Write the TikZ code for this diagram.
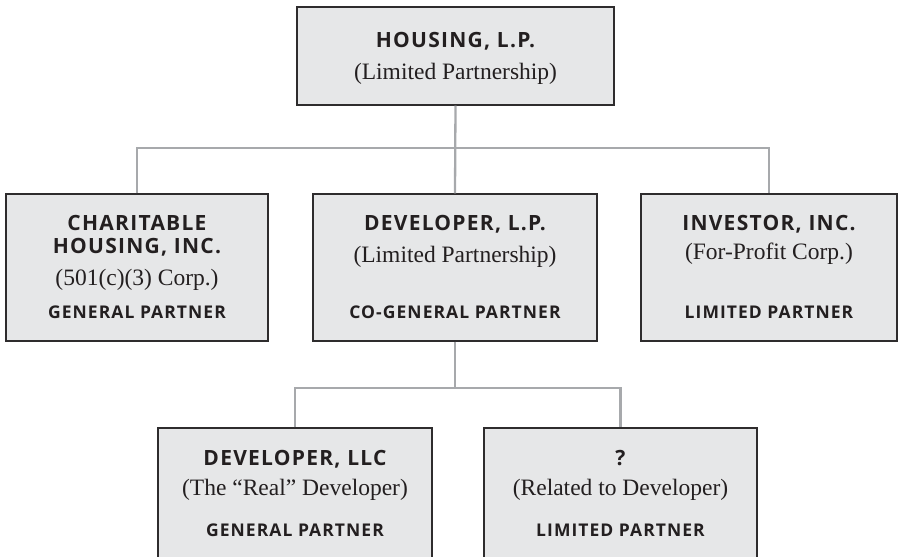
\documentclass[tikz,border=0pt]{standalone}
\usepackage{fontspec}
\setmainfont{Liberation Serif}
\newfontfamily\headfont{Open Sans}[LetterSpace=6]
\definecolor{boxfill}{HTML}{E6E7E8}
\definecolor{boxline}{HTML}{2E2C2D}
\definecolor{linkgray}{HTML}{A7A9AC}
\definecolor{ink}{HTML}{231F20}
\tikzset{
  box/.style={draw=boxline, fill=boxfill, line width=1.4pt, inner sep=0pt},
  title/.style={font=\headfont\bfseries\fontsize{21}{24}\selectfont, text=ink, anchor=base, inner sep=0pt},
  sub/.style={font=\fontsize{23.5}{26}\selectfont, text=ink, anchor=base, inner sep=0pt},
  role/.style={font=\headfont\bfseries\fontsize{17.5}{20}\selectfont, text=ink, anchor=base, inner sep=0pt},
  link/.style={draw=linkgray, line width=2.3pt}
}
\begin{document}
\begin{tikzpicture}[x=1pt,y=-1pt]
  \useasboundingbox (0,0) rectangle (898,557);
  % boxes
  \node[box, minimum width=317pt, minimum height=98pt] (hlp) at (455.5,56) {};
  \node[box, minimum width=262pt, minimum height=147pt] (chi) at (137,267.5) {};
  \node[box, minimum width=284pt, minimum height=147pt] (dlp) at (455,267.5) {};
  \node[box, minimum width=256pt, minimum height=147pt] (inv) at (769,267.5) {};
  \node[box, minimum width=274pt, minimum height=131pt] (dllc) at (295,493.5) {};
  \node[box, minimum width=273pt, minimum height=131pt] (rel) at (620.5,493.5) {};
  % texts
  \node[title] (hlp-t) at ([yshift=-41pt]hlp.north) {HOUSING, L.P.};
  \node[sub] (hlp-s) at ([yshift=-32pt]hlp-t.base) {(Limited Partnership)};
  \node[title] (chi-t1) at ([yshift=-37pt]chi.north) {CHARITABLE};
  \node[title] (chi-t2) at ([yshift=-23pt]chi-t1.base) {HOUSING, INC.};
  \node[sub] (chi-s) at ([yshift=-32pt]chi-t2.base) {(501(c)(3) Corp.)};
  \node[role] (chi-r) at ([yshift=23pt]chi.south) {GENERAL PARTNER};
  \node[title] (dlp-t) at ([yshift=-37pt]dlp.north) {DEVELOPER, L.P.};
  \node[sub] (dlp-s) at ([yshift=-32pt]dlp-t.base) {(Limited Partnership)};
  \node[role] (dlp-r) at ([yshift=23pt]dlp.south) {CO-GENERAL PARTNER};
  \node[title] (inv-t) at ([yshift=-37pt]inv.north) {INVESTOR, INC.};
  \node[sub] (inv-s) at ([yshift=-29pt]inv-t.base) {(For-Profit Corp.)};
  \node[role] (inv-r) at ([yshift=23pt]inv.south) {LIMITED PARTNER};
  \node[title] (dllc-t) at ([yshift=-38.5pt]dllc.north) {DEVELOPER, LLC};
  \node[sub] (dllc-s) at ([yshift=-30pt]dllc-t.base) {(The “Real” Developer)};
  \node[role] (dllc-r) at ([yshift=23pt]dllc.south) {GENERAL PARTNER};
  \node[title] (rel-t) at ([yshift=-38pt]rel.north) {?};
  \node[sub] (rel-s) at ([yshift=-30pt]rel-t.base) {(Related to Developer)};
  \node[role] (rel-r) at ([yshift=23pt]rel.south) {LIMITED PARTNER};
  % connectors
  \coordinate (bus1) at (455,148);
  \coordinate (bus2) at (455,388);
  \draw[link] (hlp.south) -- (dlp.north);
  \draw[link] (chi.north) |- (bus1) -| (inv.north);
  \draw[link] (dlp.south) -- (bus2);
  \draw[link] (dllc.north) |- (bus2) -| (rel.north);
\end{tikzpicture}
\end{document}
